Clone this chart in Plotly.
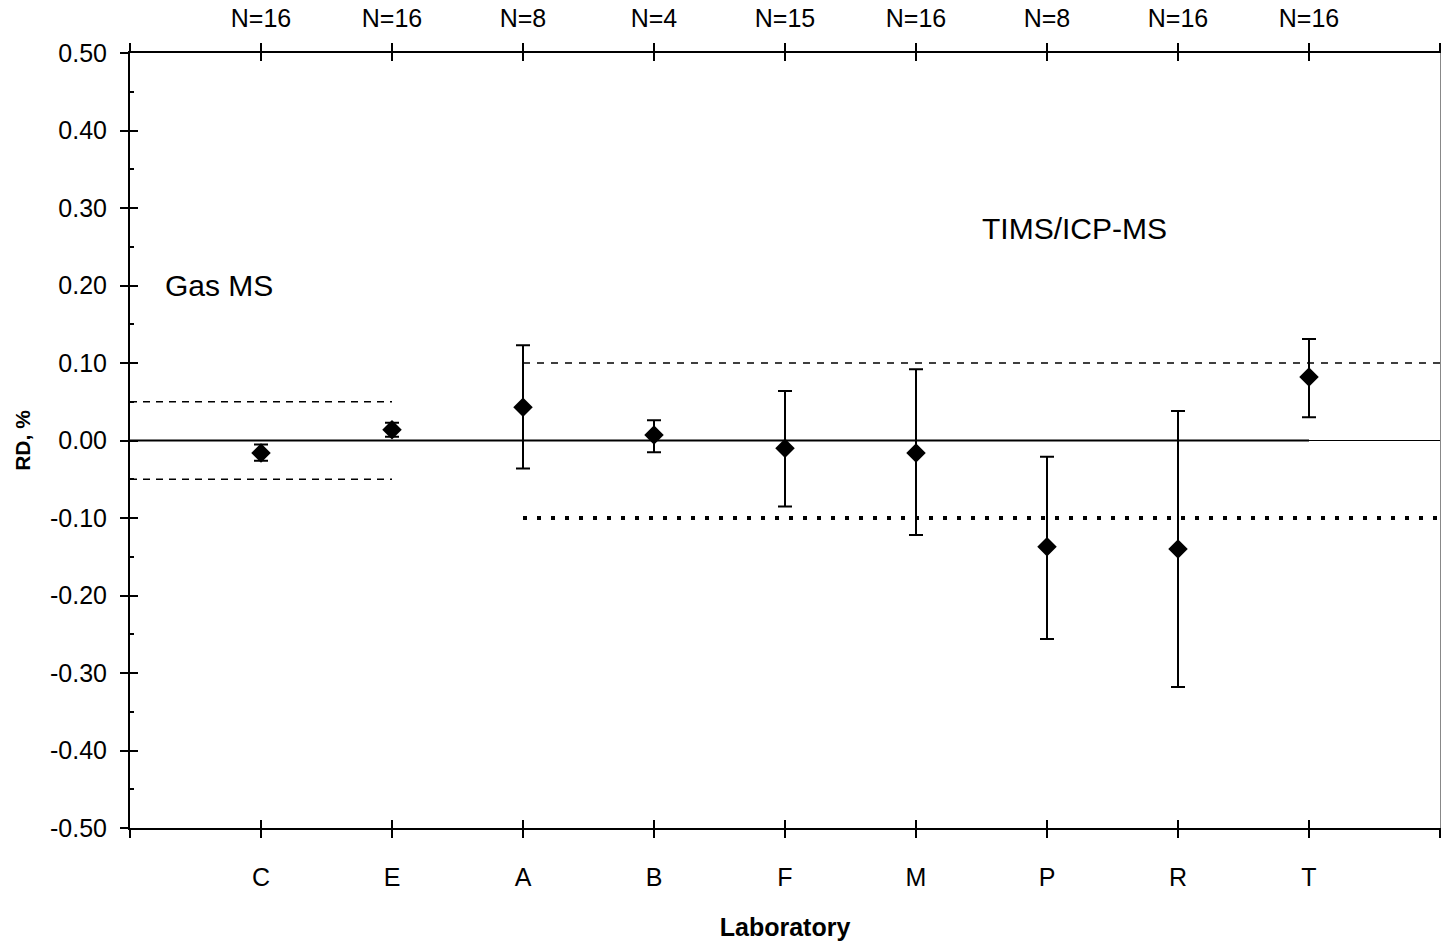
import plotly.graph_objects as go

# Laboratory results: relative difference (RD, %) with uncertainty
labs = ["C", "E", "A", "B", "F", "M", "P", "R", "T"]
n_counts = ["N=16", "N=16", "N=8", "N=4", "N=15", "N=16", "N=8", "N=16", "N=16"]
rd = [-0.016, 0.014, 0.043, 0.007, -0.010, -0.016, -0.137, -0.140, 0.082]
err_plus = [0.011, 0.009, 0.080, 0.019, 0.074, 0.108, 0.116, 0.178, 0.049]
err_minus = [0.010, 0.009, 0.079, 0.022, 0.075, 0.106, 0.119, 0.178, 0.052]

# Acceptance limits
gas_x = [0, 2]
gas_limit = 0.05
tims_x = [3, 10]
tims_limit = 0.10
zero_x_main = [0, 9]
zero_x_tail = [9, 10]

x_pos = list(range(1, len(labs) + 1))
y_ticks = [round(-0.5 + 0.1 * i, 2) for i in range(11)]
y_ticktext = [f"{v:.2f}" for v in y_ticks]

FONT = "Liberation Sans, Arial, sans-serif"

fig = go.Figure()

# zero line
fig.add_trace(go.Scatter(x=zero_x_main, y=[0, 0], mode="lines",
                         line=dict(color="black", width=2), hoverinfo="skip"))
fig.add_trace(go.Scatter(x=zero_x_tail, y=[0, 0], mode="lines",
                         line=dict(color="black", width=1.2), hoverinfo="skip"))

# Gas MS limits
for s in (1, -1):
    fig.add_trace(go.Scatter(x=gas_x, y=[s * gas_limit] * 2, mode="lines",
                             line=dict(color="black", width=1.5, dash="7px,6px"),
                             hoverinfo="skip"))

# TIMS/ICP-MS limits
fig.add_trace(go.Scatter(x=tims_x, y=[tims_limit] * 2, mode="lines",
                         line=dict(color="black", width=1.5, dash="7px,7px"),
                         hoverinfo="skip"))
fig.add_trace(go.Scatter(x=tims_x, y=[-tims_limit] * 2, mode="lines",
                         line=dict(color="black", width=4, dash="4px,10px"),
                         hoverinfo="skip"))

# results with error bars
fig.add_trace(go.Scatter(
    x=x_pos, y=rd, mode="markers",
    marker=dict(symbol="diamond", size=15, color="black"),
    error_y=dict(type="data", symmetric=False, array=err_plus,
                 arrayminus=err_minus, color="black", thickness=2, width=7),
))

# empty traces so the extra tick/frame axes get their own subplots
for xa, ya in (("x2", "y"), ("x3", "y"), ("x4", "y"), ("x", "y2"), ("x", "y3")):
    fig.add_trace(go.Scatter(x=[None], y=[None], xaxis=xa, yaxis=ya,
                             mode="markers", hoverinfo="skip"))

common_x = dict(range=[0, 10], tickmode="array", tickvals=list(range(0, 11)),
                showgrid=False, zeroline=False, showline=True,
                linecolor="black", linewidth=2, tickcolor="black",
                tickwidth=2, ticklen=8, automargin=False)

fig.update_layout(
    width=1441, height=941,
    margin=dict(l=130, r=1, t=53, b=113),
    paper_bgcolor="white", plot_bgcolor="white",
    showlegend=False,
    font=dict(family=FONT, size=25, color="black"),
    xaxis=dict(**common_x, side="bottom", ticks="outside",
               ticktext=[""] + labs + [""], ticklabelstandoff=18,
               title=dict(text="<b>Laboratory</b>", standoff=30,
                          font=dict(size=25))),
    xaxis2=dict(**common_x, overlaying="x", anchor="y", side="bottom",
                ticks="inside", showticklabels=False),
    xaxis3=dict(**common_x, overlaying="x", anchor="y", side="top",
                ticks="outside", ticktext=[""] + n_counts + [""],
                ticklabelstandoff=6),
    xaxis4=dict(**common_x, overlaying="x", anchor="y", side="top",
                ticks="inside", showticklabels=False),
    yaxis=dict(range=[-0.5, 0.5], tickmode="array", tickvals=y_ticks,
               ticktext=y_ticktext, ticks="outside", ticklen=8, tickwidth=2,
               tickcolor="black", showline=True, linecolor="black",
               linewidth=2, showgrid=False, zeroline=False,
               ticklabelstandoff=8, automargin=False,
               title=dict(text="<b>RD, %</b>", standoff=14,
                          font=dict(size=21))),
    yaxis2=dict(range=[-0.5, 0.5], overlaying="y", anchor="x", side="left",
                tickmode="array", tickvals=y_ticks, ticks="inside",
                ticklen=8, tickwidth=2, tickcolor="black",
                showticklabels=False, showgrid=False, zeroline=False,
                showline=False, automargin=False,
                minor=dict(tickmode="array",
                           tickvals=[round(-0.45 + 0.1 * i, 2) for i in range(10)],
                           ticks="inside", ticklen=4, tickwidth=2,
                           tickcolor="black", showgrid=False)),
    yaxis3=dict(range=[-0.5, 0.5], overlaying="y", anchor="x", side="right",
                showticklabels=False, ticks="", showgrid=False,
                zeroline=False, showline=True, linecolor="#888888",
                linewidth=1, automargin=False),
)

fig.add_annotation(x=0.25, y=0.20, xref="x", yref="y", text="Gas MS",
                   showarrow=False, xanchor="left", yanchor="middle",
                   font=dict(size=30, family=FONT))
fig.add_annotation(x=6.49, y=0.274, xref="x", yref="y", text="TIMS/ICP-MS",
                   showarrow=False, xanchor="left", yanchor="middle",
                   font=dict(size=30, family=FONT))

fig.write_html("out.html")
